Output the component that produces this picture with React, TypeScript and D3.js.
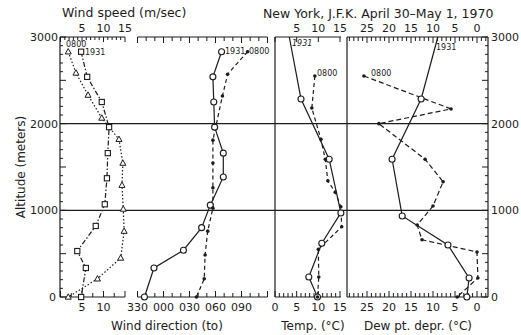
import * as d3 from 'd3';

// altitude (m) / value pairs
const speed1931 = [
  { alt: 2830, v: 4.8 }, { alt: 2540, v: 6.2 }, { alt: 2250, v: 9.6 }, { alt: 1960, v: 11.3 },
  { alt: 1660, v: 11.0 }, { alt: 1370, v: 10.8 }, { alt: 1070, v: 10.3 }, { alt: 820, v: 8.2 },
  { alt: 530, v: 3.9 }, { alt: 335, v: 5.9 }, { alt: 0, v: 4.8 },
];
const speed0800 = [
  { alt: 2830, v: 1.8 }, { alt: 2585, v: 3.6 }, { alt: 2330, v: 6.4 }, { alt: 2065, v: 9.6 },
  { alt: 1820, v: 13.6 }, { alt: 1545, v: 14.5 }, { alt: 1290, v: 14.3 }, { alt: 1015, v: 14.6 },
  { alt: 760, v: 14.8 }, { alt: 450, v: 14.0 }, { alt: 210, v: 8.6 }, { alt: 0, v: 1.8 },
];
// wind direction, compass degrees (values past 180 are drawn left of 000)
const dir1931 = [
  { alt: 2830, v: 67 }, { alt: 2540, v: 57 }, { alt: 2250, v: 58 }, { alt: 1960, v: 59 },
  { alt: 1660, v: 69 }, { alt: 1385, v: 69 }, { alt: 1060, v: 54 }, { alt: 800, v: 44 },
  { alt: 540, v: 23 }, { alt: 335, v: 349 }, { alt: 0, v: 338 },
];
const dir0800 = [
  { alt: 2830, v: 97 }, { alt: 2570, v: 74 }, { alt: 2320, v: 68 }, { alt: 1810, v: 57 },
  { alt: 1545, v: 57 }, { alt: 1260, v: 57 }, { alt: 1025, v: 57 }, { alt: 760, v: 51 },
  { alt: 485, v: 48 }, { alt: 210, v: 47 }, { alt: 0, v: 38 },
];
const temp1931 = [
  { alt: 3000, v: 3.3 }, { alt: 2285, v: 6.0 }, { alt: 1590, v: 12.5 }, { alt: 970, v: 15.2 },
  { alt: 620, v: 10.8 }, { alt: 230, v: 7.8 }, { alt: 0, v: 9.8 },
];
const temp0800 = [
  { alt: 2550, v: 9.2 }, { alt: 2180, v: 8.5 }, { alt: 1820, v: 10.6 }, { alt: 1590, v: 11.6 },
  { alt: 1340, v: 12.2 }, { alt: 1210, v: 13.9 }, { alt: 1040, v: 15.2 }, { alt: 810, v: 15.4 },
  { alt: 550, v: 10.0 }, { alt: 230, v: 10.1 }, { alt: 0, v: 9.8 },
];
const dew1931 = [
  { alt: 3000, v: 8.9 }, { alt: 2285, v: 12.7 }, { alt: 1590, v: 19.3 }, { alt: 935, v: 17.0 },
  { alt: 600, v: 6.6 }, { alt: 220, v: 1.8 }, { alt: 0, v: 2.3 },
];
const dew0800 = [
  { alt: 2550, v: 25.7 }, { alt: 2170, v: 5.9 }, { alt: 2000, v: 22.3 }, { alt: 1590, v: 11.8 },
  { alt: 1330, v: 7.7 }, { alt: 1050, v: 10.0 }, { alt: 830, v: 13.6 }, { alt: 660, v: 12.5 },
  { alt: 520, v: 0.0 }, { alt: 220, v: -0.2 }, { alt: 0, v: 4.5 },
];

const altLabels = [0, 1000, 2000, 3000];
const speedLabels = [5, 10, 15];
const dirLabels = ['330', '000', '030', '060', '090'];
const tempLabels = [0, 5, 10, 15];
const dewLabels = [25, 20, 15, 10, 5, 0];

const W = 521;
const H = 335;
const ink = '#1c1c1c';
const font = "'DejaVu Sans', sans-serif";

const unwrap = (d: number) => (d > 180 ? d - 360 : d);

type Pt = { alt: number; v: number };

export default function App() {
  const y = d3.scaleLinear().domain([0, 3000]).range([297, 37]);
  const xSpeed = d3.scaleLinear().domain([0, 15]).range([60.5, 125]);
  const xDir = d3.scaleLinear().domain([-30, 120]).range([137.5, 267.5]);
  const xTemp = d3.scaleLinear().domain([0, 15]).range([275, 340]);
  const xDew = d3.scaleLinear().domain([0, 25]).range([477, 367]);

  const top = y(3000);
  const bot = y(0);
  const left = xSpeed(0) - 0.5;
  const right = 488;
  const dewLeft = 347;

  const path = (data: Pt[], x: (v: number) => number, f = (v: number) => v) =>
    d3
      .line<Pt>()
      .x((d) => x(f(d.v)))
      .y((d) => y(d.alt))(data) as string;

  const ticks: JSX.Element[] = [];
  const tick = (x1: number, y1: number, x2: number, y2: number) =>
    ticks.push(<line key={ticks.length} x1={x1} y1={y1} x2={x2} y2={y2} />);

  // altitude ticks on both outer axes
  d3.range(0, 3001, 100).forEach((a) => {
    const len = a % 500 === 0 ? 6 : 3;
    tick(left, y(a), left + len, y(a));
    tick(right, y(a), right - len, y(a));
  });
  // wind speed
  d3.range(0, 15.01, 1).forEach((v) => {
    tick(xSpeed(v), top, xSpeed(v), top + (v % 5 === 0 ? 5 : 3));
  });
  d3.range(0, 15.01, 2.5).forEach((v) => {
    tick(xSpeed(v), bot, xSpeed(v), bot - (v % 5 === 0 ? 6 : 4));
  });
  // wind direction
  d3.range(-30, 121, 10).forEach((v) => {
    const len = v % 30 === 0 ? 6 : 4;
    tick(xDir(v), top, xDir(v), top + len);
    tick(xDir(v), bot, xDir(v), bot - len);
  });
  // temperature
  tempLabels.forEach((v) => tick(xTemp(v), top, xTemp(v), top + 5));
  d3.range(0, 15.01, 1).forEach((v) => {
    tick(xTemp(v), bot, xTemp(v), bot - (v % 5 === 0 ? 6 : 4));
  });
  // dew point depression
  d3.range(-2, 30, 1).forEach((v) => {
    const len = v % 5 === 0 ? 6 : 4;
    tick(xDew(v), top, xDew(v), top + len);
    tick(xDew(v), bot, xDew(v), bot - len);
  });

  const square = (cx: number, cy: number, k: string) => (
    <rect key={k} x={cx - 2.6} y={cy - 2.6} width={5.2} height={5.2} fill="white" stroke={ink} strokeWidth={1.1} />
  );
  const triangle = (cx: number, cy: number, k: string) => (
    <path key={k} d={`M${cx},${cy - 3.2}L${cx + 3},${cy + 2.2}L${cx - 3},${cy + 2.2}Z`} fill="white" stroke={ink} strokeWidth={1} />
  );
  const ring = (cx: number, cy: number, k: string) => (
    <circle key={k} cx={cx} cy={cy} r={3} fill="white" stroke={ink} strokeWidth={1.1} />
  );
  const dot = (cx: number, cy: number, k: string) => <circle key={k} cx={cx} cy={cy} r={1.8} fill={ink} />;

  const small = { fontSize: 8, fontFamily: font, fill: ink };
  const tickFont = { fontSize: 11, fontFamily: font, fill: ink };

  return (
    <svg width={W} height={H} style={{ position: 'absolute', left: 0, top: 0, background: 'white' }}>
      <rect width={W} height={H} fill="white" />

      {/* frame lines */}
      <g stroke={ink} strokeWidth={1.2} fill="none">
        <line x1={left} y1={top} x2={left} y2={bot} />
        <line x1={right} y1={top} x2={right} y2={bot} />
        <line x1={xTemp(0)} y1={top} x2={xTemp(0)} y2={bot} />
        <line x1={dewLeft} y1={top} x2={dewLeft} y2={bot} />
        <line x1={left} y1={y(2000)} x2={right} y2={y(2000)} strokeWidth={1.4} />
        <line x1={left} y1={y(1000)} x2={right} y2={y(1000)} strokeWidth={1.4} />
        {[top, bot].map((yy) => (
          <g key={yy}>
            <line x1={left} y1={yy} x2={xSpeed(15)} y2={yy} />
            <line x1={xDir(-30)} y1={yy} x2={xDir(120)} y2={yy} />
            <line x1={xTemp(0)} y1={yy} x2={xTemp(15) + 1} y2={yy} />
            <line x1={dewLeft} y1={yy} x2={right} y2={yy} />
          </g>
        ))}
      </g>
      <g stroke={ink} strokeWidth={1}>{ticks}</g>

      {/* series */}
      <g fill="none" stroke={ink} strokeWidth={1.2}>
        <path d={path(speed1931, xSpeed)} strokeDasharray="5,2,1.5,2" />
        <path d={path(speed0800, xSpeed)} strokeDasharray="1.5,2" />
        <path d={path(dir1931, xDir, unwrap)} />
        <path d={path(dir0800, xDir, unwrap)} strokeDasharray="4,3" />
        <path d={path(temp1931, xTemp)} />
        <path d={path(temp0800, xTemp)} strokeDasharray="4,3" />
        <path d={path(dew1931, xDew)} />
        <path d={path(dew0800, xDew)} strokeDasharray="5,3" />
      </g>
      <g>
        {speed1931.map((d, i) => square(xSpeed(d.v), y(d.alt), 's' + i))}
        {speed0800.map((d, i) => triangle(xSpeed(d.v), y(d.alt), 't' + i))}
        {dir1931.map((d, i) => ring(xDir(unwrap(d.v)), y(d.alt), 'dr' + i))}
        {dir0800.map((d, i) => dot(xDir(unwrap(d.v)), y(d.alt), 'dd' + i))}
        {temp1931.slice(1).map((d, i) => ring(xTemp(d.v), y(d.alt), 'tr' + i))}
        {temp0800.map((d, i) => dot(xTemp(d.v), y(d.alt), 'td' + i))}
        {dew1931.slice(1).map((d, i) => ring(xDew(d.v), y(d.alt), 'wr' + i))}
        {dew0800.map((d, i) => dot(xDew(d.v), y(d.alt), 'wd' + i))}
      </g>

      {/* series labels */}
      <g style={small}>
        <text x={66} y={47}>0800</text>
        <text x={85} y={55}>1931</text>
        <text x={225} y={54}>1931</text>
        <text x={249} y={54}>0800</text>
        <text x={292} y={46} fontStyle="italic">1931</text>
        <text x={317} y={76}>0800</text>
        <text x={436} y={50}>1931</text>
        <text x={371} y={76}>0800</text>
      </g>

      {/* titles */}
      <text x={62} y={17} style={{ ...tickFont, fontSize: 12.5 }}>Wind speed (m/sec)</text>
      <text x={263} y={18} style={{ ...tickFont, fontSize: 12.5 }}>New York, J.F.K. April 30–May 1, 1970</text>

      {/* altitude labels */}
      <g style={tickFont}>
        {altLabels.map((a) => (
          <text key={'l' + a} x={a === 0 ? 56 : 58} y={y(a) + 4} textAnchor="end">{a}</text>
        ))}
        {altLabels.map((a) => (
          <text key={'r' + a} x={491} y={y(a) + 4}>{a}</text>
        ))}
      </g>
      <text transform={`translate(25,${(top + bot) / 2}) rotate(-90)`} textAnchor="middle" style={{ ...tickFont, fontSize: 12 }}>
        Altitude (meters)
      </text>

      {/* top tick labels */}
      <g style={tickFont} textAnchor="middle">
        {speedLabels.map((v) => (
          <text key={'st' + v} x={xSpeed(v)} y={32}>{v}</text>
        ))}
        {tempLabels.slice(1).map((v) => (
          <text key={'tt' + v} x={xTemp(v)} y={32}>{v}</text>
        ))}
        {dewLabels.map((v) => (
          <text key={'wt' + v} x={xDew(v)} y={32}>{v}</text>
        ))}
      </g>

      {/* bottom tick labels */}
      <g style={tickFont} textAnchor="middle">
        {speedLabels.slice(0, 2).map((v) => (
          <text key={'sb' + v} x={xSpeed(v)} y={311}>{v}</text>
        ))}
        {dirLabels.map((l) => (
          <text key={'db' + l} x={xDir(unwrap(+l))} y={311}>{l}</text>
        ))}
        {tempLabels.map((v) => (
          <text key={'tb' + v} x={xTemp(v)} y={311}>{v}</text>
        ))}
        {dewLabels.map((v) => (
          <text key={'wb' + v} x={xDew(v)} y={311}>{v}</text>
        ))}
      </g>

      <g style={{ ...tickFont, fontSize: 12 }} textAnchor="middle">
        <text x={167} y={330}>Wind direction (to)</text>
        <text x={313} y={330}>Temp. (°C)</text>
        <text x={418} y={330}>Dew pt. depr. (°C)</text>
      </g>
    </svg>
  );
}
